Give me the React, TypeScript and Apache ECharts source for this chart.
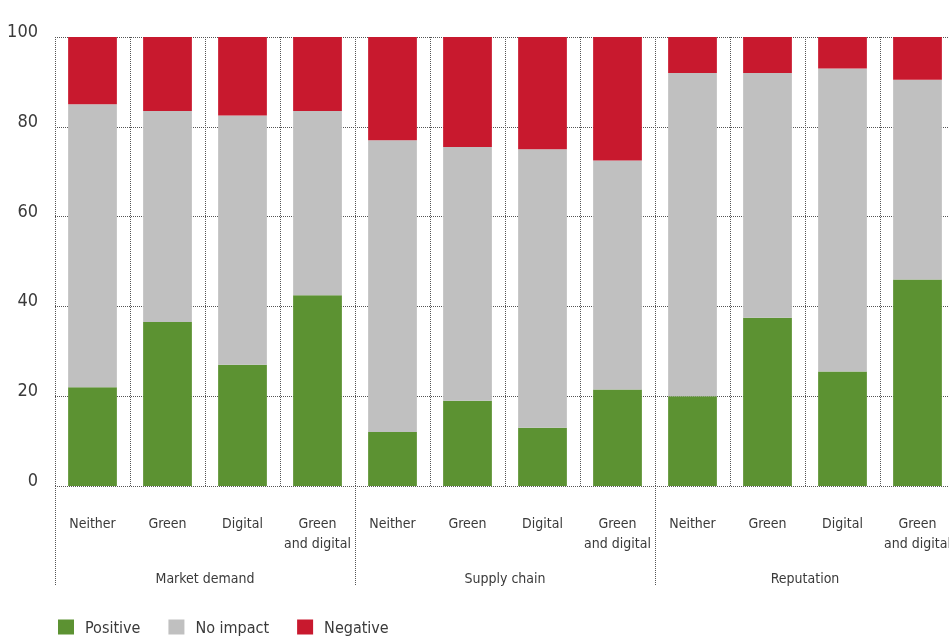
import React, { useEffect, useRef } from "react";
import * as echarts from "echarts";

const categories = [
  "Neither", "Green", "Digital", "Green\nand digital",
  "Neither", "Green", "Digital", "Green\nand digital",
  "Neither", "Green", "Digital", "Green\nand digital",
];
const groups = ["Market demand", "Supply chain", "Reputation"];
const positive = [22, 36.5, 27, 42.5, 12, 19, 13, 21.5, 20, 37.5, 25.5, 46];
const noImpact = [63, 47, 55.5, 41, 65, 56.5, 62, 51, 72, 54.5, 67.5, 44.5];
const negative = [15, 16.5, 17.5, 16.5, 23, 24.5, 25, 27.5, 8, 8, 7, 9.5];
const yTicks = { min: 0, max: 100, interval: 20 };

const FONT = "'Liberation Sans Narrow', 'DejaVu Sans Condensed', sans-serif";
const TEXT = "#3a3a3a";
const GRID = "#555555";

export default function App() {
  const ref = useRef<HTMLDivElement>(null);
  useEffect(() => {
    if (!ref.current) return;
    const chart = echarts.init(ref.current, undefined, { renderer: "svg" });
    chart.setOption({
      animation: false,
      textStyle: { fontFamily: FONT },
      grid: { left: 55, top: 37, width: 900, height: 449, outerBoundsMode: "none" },
      legend: {
        left: 53,
        top: 614,
        itemWidth: 16,
        itemHeight: 15,
        itemGap: 28,
        icon: "rect",
        textStyle: { fontFamily: FONT, fontSize: 16, color: TEXT, padding: [0, 0, 0, 6] },
        data: ["Positive", "No impact", "Negative"],
      },
      xAxis: [
        {
          type: "category",
          data: categories,
          boundaryGap: true,
          axisLine: { show: false },
          axisTick: { show: false },
          splitLine: { show: true, interval: 0, lineStyle: { type: "dotted", color: GRID, width: 1 } },
          axisLabel: {
            interval: 0,
            margin: 27,
            fontFamily: FONT,
            fontSize: 14,
            lineHeight: 20,
            color: TEXT,
          },
        },
        {
          type: "category",
          data: groups,
          position: "bottom",
          offset: 0,
          boundaryGap: true,
          axisLine: { show: false },
          axisTick: { show: true, interval: 0, length: 99, lineStyle: { type: "dotted", color: GRID, width: 1 } },
          splitLine: { show: false },
          axisLabel: {
            interval: 0,
            margin: 85,
            fontFamily: FONT,
            fontSize: 14,
            color: TEXT,
          },
        },
      ],
      yAxis: {
        type: "value",
        min: yTicks.min,
        max: yTicks.max,
        interval: yTicks.interval,
        axisLine: { show: false },
        axisTick: { show: false },
        splitLine: { show: true, lineStyle: { type: "dotted", color: GRID, width: 1 } },
        axisLabel: {
          margin: 17,
          fontFamily: FONT,
          fontSize: 18,
          color: TEXT,
          verticalAlign: "bottom",
          lineHeight: 13,
        },
      },
      series: [
        { name: "Positive", type: "bar", stack: "s", data: positive, barWidth: "65%", itemStyle: { color: "#5c9232" } },
        { name: "No impact", type: "bar", stack: "s", data: noImpact, barWidth: "65%", itemStyle: { color: "#c0c0c0" } },
        { name: "Negative", type: "bar", stack: "s", data: negative, barWidth: "65%", itemStyle: { color: "#c8192e" } },
      ],
    });
    return () => chart.dispose();
  }, []);
  return (
    <div
      ref={ref}
      style={{ position: "fixed", left: 0, top: 0, width: 961, height: 639 }}
    />
  );
}
